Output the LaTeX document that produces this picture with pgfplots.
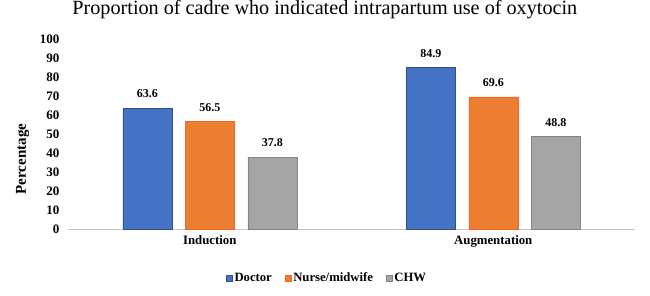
\documentclass[border=0pt]{standalone}
\usepackage{pgfplots}
\pgfplotsset{compat=1.18}
\usepackage{fontspec}
\setmainfont{Liberation Serif}
\definecolor{cblue}{HTML}{4472C4}
\definecolor{corange}{HTML}{ED7D31}
\definecolor{cgray}{HTML}{A5A5A5}
\begin{document}
\begin{tikzpicture}
\path[use as bounding box] (-68pt,-66pt) rectangle (582pt,229pt);
\begin{axis}[
  at={(0,0)}, anchor=south west,
  scale only axis, width=567pt, height=190pt,
  ybar=13.5pt, bar width=49pt,
  xmin=-0.5, xmax=1.5, ymin=0, ymax=100,
  enlargelimits=false,
  xtick={0,1}, xticklabels={Induction,Augmentation},
  ytick={0,10,...,100},
  axis lines=left,
  axis line style={-},
  y axis line style={draw=none},
  x axis line style={draw=black!22, line width=1pt},
  major tick length=0pt,
  /pgf/number format/assume math mode=true,
  yticklabel style={font=\fontsize{13}{15}\selectfont\bfseries, xshift=-5pt},
  xticklabel style={font=\fontsize{12.8}{15}\selectfont\bfseries, yshift=-3pt},
  ylabel={Percentage},
  ylabel style={font=\fontsize{15}{17}\selectfont\bfseries, at={(axis description cs:-0.08,0.368)}, anchor=center},
  title={Proportion of cadre who indicated intrapartum use of oxytocin},
  title style={font=\fontsize{20.2}{23}\selectfont, at={(axis description cs:0.453,1.095)}, anchor=base, inner sep=0pt},
  nodes near coords,
  nodes near coords style={font=\fontsize{12}{14}\selectfont\bfseries, /pgf/number format/.cd, fixed, precision=1, fixed zerofill, assume math mode=true, /tikz/.cd, yshift=6.5pt},
  legend style={at={(axis description cs:0.457,-0.257)}, anchor=center, legend columns=3, draw=none, font=\fontsize{12.7}{14}\selectfont\bfseries, /tikz/every even column/.append style={column sep=11pt}, inner sep=0pt},
  legend cell align=left,
  legend image code/.code={\draw[#1] (-1pt,-3pt) rectangle (5pt,3pt);},
]
\addplot[fill=cblue, draw=cblue!70!black] coordinates {(0,63.6) (1,84.9)};
\addplot[fill=corange, draw=corange!80!red] coordinates {(0,56.5) (1,69.6)};
\addplot[fill=cgray, draw=cgray!80!black] coordinates {(0,37.8) (1,48.8)};
\legend{Doctor,Nurse/midwife,CHW}
\end{axis}
\end{tikzpicture}
\end{document}
